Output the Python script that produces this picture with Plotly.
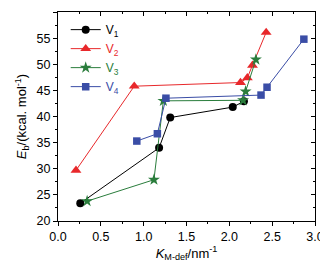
import plotly.graph_objects as go

v1_x = [0.26, 1.18, 1.31, 2.04, 2.17]
v1_y = [23.4, 34.0, 39.8, 41.8, 42.9]
v2_x = [0.21, 0.89, 2.13, 2.21, 2.27, 2.43]
v2_y = [29.7, 45.8, 46.5, 47.4, 49.8, 56.1]
v3_x = [0.34, 1.12, 1.23, 2.16, 2.19, 2.31]
v3_y = [23.8, 27.9, 43.0, 43.1, 44.8, 50.9]
v4_x = [0.92, 1.16, 1.26, 2.37, 2.44, 2.87]
v4_y = [35.3, 36.7, 43.5, 44.1, 45.6, 54.8]

names = ["V<sub>1</sub>", "V<sub>2</sub>", "V<sub>3</sub>", "V<sub>4</sub>"]
colors = ["#000000", "#e8282b", "#2a7d3c", "#3a4da6"]
symbols = ["circle", "triangle-up", "star", "square"]
sizes = [8, 9.5, 9, 7.5]

fig = go.Figure()
for (xs, ys), nm, c, s, sz in zip([(v1_x, v1_y), (v2_x, v2_y), (v3_x, v3_y), (v4_x, v4_y)],
                                 names, colors, symbols, sizes):
    fig.add_trace(go.Scatter(x=xs, y=ys, mode="lines+markers",
                             name=f"<span style='color:{c}'>{nm}</span>",
                             line=dict(color=c, width=1),
                             marker=dict(symbol=s, size=sz, color=c, line=dict(width=0))))

font = dict(family="Liberation Sans, Arial, sans-serif", size=12.5, color="#000")
fig.update_layout(
    width=320, height=257,
    margin=dict(l=50, r=13, t=4, b=44, autoexpand=False),
    paper_bgcolor="white", plot_bgcolor="white",
    font=font,
    showlegend=True,
    legend=dict(x=0.03, y=0.985, xanchor="left", yanchor="top", bgcolor="rgba(0,0,0,0)",
                font=dict(family="Liberation Sans, Arial, sans-serif", size=12),
                tracegroupgap=0, itemwidth=30),
    xaxis=dict(range=[0, 3.0], dtick=0.5, tickformat=".1f", showgrid=False, zeroline=False,
               automargin=False,
               showline=True, linecolor="#000", linewidth=1.2, ticks="outside", ticklen=4,
               tickcolor="#000", minor=dict(ticks="outside", ticklen=2, dtick=0.25, tickcolor="#000"),
               title=dict(text="<i>K</i><sub>M-def</sub>/nm<sup>-1</sup>", standoff=4, font=dict(size=13))),
    yaxis=dict(range=[20, 60], dtick=5, showgrid=False, zeroline=False,
               automargin=False,
               showline=True, linecolor="#000", linewidth=1.2, ticks="outside", ticklen=4,
               tickcolor="#000", minor=dict(ticks="outside", ticklen=2, dtick=2.5, tickcolor="#000"),
               title=dict(text="<i>E</i><sub>b</sub>/(kcal. mol<sup>-1</sup>)", standoff=6, font=dict(size=13))),
    xaxis2=dict(range=[0, 3.0], overlaying="x", side="top", showticklabels=False, showgrid=False,
                automargin=False,
                zeroline=False, showline=True, linecolor="#000", linewidth=1.2, ticks="inside",
                ticklen=4, dtick=0.5, tickcolor="#000",
                minor=dict(ticks="inside", ticklen=2, dtick=0.25, tickcolor="#000")),
    yaxis2=dict(range=[20, 60], overlaying="y", side="right", showticklabels=False, showgrid=False,
                automargin=False,
                zeroline=False, showline=True, linecolor="#000", linewidth=1.2, ticks="inside",
                ticklen=4, dtick=5, tickcolor="#000",
                minor=dict(ticks="inside", ticklen=2, dtick=2.5, tickcolor="#000")),
)
fig.add_trace(go.Scatter(x=[None], y=[None], xaxis="x2", yaxis="y2", showlegend=False, hoverinfo="skip"))

fig.write_html("out.html")
